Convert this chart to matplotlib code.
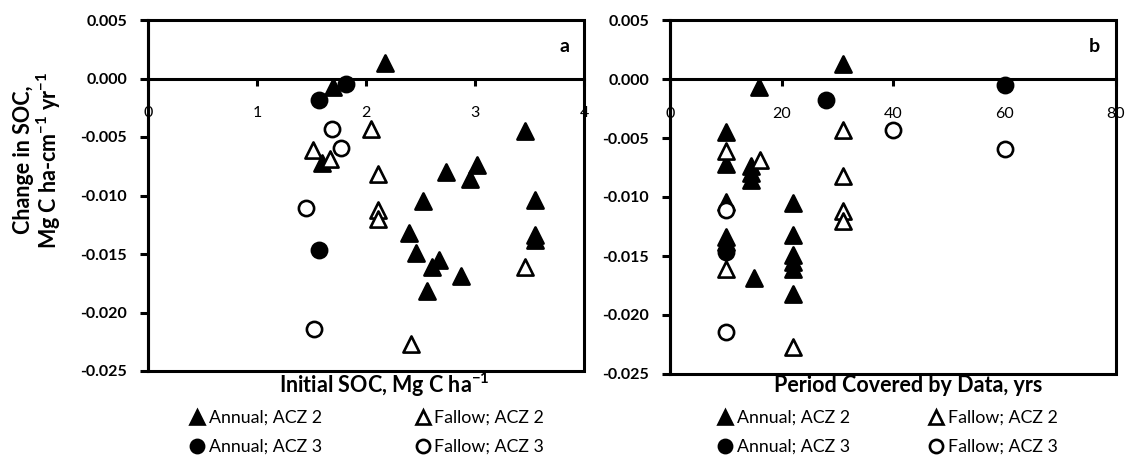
import matplotlib
matplotlib.use("Agg")
import matplotlib.pyplot as plt
from matplotlib.patches import Rectangle
from matplotlib.lines import Line2D
from matplotlib.ticker import FuncFormatter, MultipleLocator

plt.rcParams["font.family"] = ["Lato", "DejaVu Sans"]
plt.rcParams["axes.unicode_minus"] = False
plt.rcParams["mathtext.default"] = "regular"

# ── Site data: initial SOC (Mg C/ha), years of record, change in SOC ──────────
ann2_soc = [2.17, 1.70, 1.60, 2.73, 3.02, 2.95, 3.46, 2.52, 3.55, 2.39, 2.46,
            2.67, 2.61, 2.87, 3.55, 2.56, 3.55]
ann2_yrs = [31, 16, 10, 14.6, 14.6, 14.6, 10, 22, 10, 22, 22,
            22, 22, 15, 10, 22, 10]
ann2_dsoc = [0.0013, -0.0007, -0.0072, -0.0080, -0.0074, -0.0086, -0.0045,
             -0.0105, -0.0104, -0.0132, -0.0149, -0.0155, -0.0161, -0.0169,
             -0.0134, -0.0182, -0.0138]

fal2_soc = [1.51, 1.67, 2.05, 2.11, 2.11, 2.11, 3.46, 2.41]
fal2_yrs = [10, 16.1, 31, 31, 31, 31, 10, 22]
fal2_dsoc = [-0.0061, -0.0069, -0.0043, -0.0082, -0.0112, -0.0120, -0.0161,
             -0.0227]

ann3_soc = [1.57, 1.82, 1.57]
ann3_yrs = [28, 60, 10]
ann3_dsoc = [-0.0018, -0.0005, -0.0147]

fal3_soc = [1.685, 1.77, 1.45, 1.52]
fal3_yrs = [40, 60, 10, 10]
fal3_dsoc = [-0.0043, -0.0059, -0.0111, -0.0214]

SERIES = [
    ("Annual; ACZ 2", "^", "black", ann2_soc, ann2_yrs, ann2_dsoc),
    ("Annual; ACZ 3", "o", "black", ann3_soc, ann3_yrs, ann3_dsoc),
    ("Fallow; ACZ 2", "^", "white", fal2_soc, fal2_yrs, fal2_dsoc),
    ("Fallow; ACZ 3", "o", "white", fal3_soc, fal3_yrs, fal3_dsoc),
]

FS_TICK = 11.5
FS_LEG = 12.75
FS_LAB = 15.5
LW = 2.2

fig = plt.figure(figsize=(11.26, 4.57), dpi=100)
fig.patch.set_facecolor("white")
ax_a = fig.add_axes([148 / 1126, 1 - 371 / 457, 436 / 1126, 351 / 457])
ax_b = fig.add_axes([670 / 1126, 1 - 374 / 457, 446 / 1126, 354 / 457])


def fmt_y(v, _pos):
    if abs(v) < 1e-9:
        v = 0.0
    return f"{v:.3f}"


def style_ax(ax, xmax, xstep):
    ax.set_xlim(0, xmax)
    ax.set_ylim(-0.025, 0.005)
    ax.xaxis.set_major_locator(MultipleLocator(xstep))
    ax.yaxis.set_major_locator(MultipleLocator(0.005))
    ax.yaxis.set_major_formatter(FuncFormatter(fmt_y))
    ax.spines["bottom"].set_position(("data", 0))
    ax.spines["bottom"].set_linewidth(LW)
    ax.spines["left"].set_linewidth(LW)
    ax.spines["top"].set_visible(False)
    ax.spines["right"].set_visible(False)
    ax.add_patch(Rectangle((0, 0), 1, 1, transform=ax.transAxes, fill=False,
                           lw=LW, ec="black", clip_on=False, zorder=5))
    ax.tick_params(axis="y", direction="out", length=6, width=LW, pad=9,
                   labelsize=FS_TICK)
    ax.tick_params(axis="x", direction="out", length=5, width=LW, pad=15,
                   labelsize=FS_TICK)
    for t in ax.get_yticklabels():
        t.set_fontweight("bold")


def draw_points(ax, which):
    for label, marker, face, soc, yrs, dsoc in SERIES:
        xs = soc if which == "soc" else yrs
        ms = 135 if marker == "^" else 120
        ax.scatter(xs, dsoc, s=ms, marker=marker, facecolors=face,
                   edgecolors="black", linewidths=1.9, zorder=4, clip_on=False)


def add_legend(x0, spacing):
    handles = [Line2D([], [], ls="none", marker=m, ms=10 if m == "^" else 9.5,
                      mfc=f, mec="black", mew=1.9, label=lab)
               for lab, m, f, *_ in SERIES]
    fig.legend(handles=handles, ncol=2, loc="upper left",
               bbox_to_anchor=(x0, 1 - 410 / 457), frameon=False,
               fontsize=FS_LEG, handlelength=0.8, handletextpad=0.25,
               columnspacing=spacing, labelspacing=0.72, borderpad=0,
               borderaxespad=0)


style_ax(ax_a, 4, 1)
style_ax(ax_b, 80, 20)
draw_points(ax_a, "soc")
draw_points(ax_b, "yrs")

# panel letters
fig.text(565 / 1126, 1 - 47 / 457, "a", fontsize=FS_LAB - 1.5,
         fontweight="bold", ha="center", va="center")
fig.text(1094 / 1126, 1 - 46 / 457, "b", fontsize=FS_LAB - 1.5,
         fontweight="bold", ha="center", va="center")

fig.text(38 / 1126, 1 - 160 / 457,
         "Change in SOC,\nMg C ha-cm$^{-1}$ yr$^{-1}$", rotation=90,
         ha="center", va="center", ma="center", fontsize=FS_LAB,
         fontweight="bold", linespacing=1.05)
fig.text(384 / 1126, 1 - 385 / 457, "Initial SOC, Mg C ha$^{-1}$",
         ha="center", va="center", fontsize=FS_LAB, fontweight="bold")
fig.text(908 / 1126, 1 - 385 / 457, "Period Covered by Data, yrs",
         ha="center", va="center", fontsize=FS_LAB, fontweight="bold")

add_legend(190 / 1126, 5.3)
add_legend(718 / 1126, 4.5)

fig.savefig("out.png", dpi=100, facecolor="white")
